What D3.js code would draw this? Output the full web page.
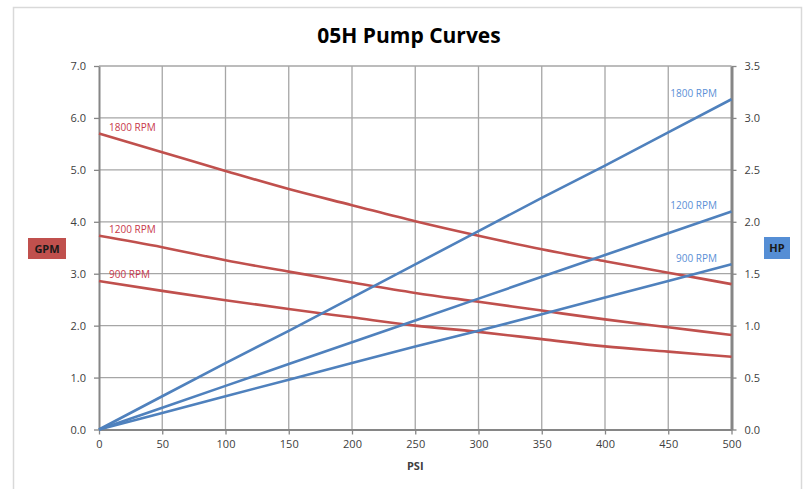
<!DOCTYPE html>
<html><head><meta charset="utf-8">
<script src="https://cdn.jsdelivr.net/npm/d3@7"></script>
<style>
html,body{margin:0;padding:0;background:#fff;}
svg{display:block;font-family:"Open Sans",Lato,sans-serif;}
</style></head><body>
<svg id="c" width="805" height="489"></svg>
<script>
const psi = [0,50,100,150,200,250,300,350,400,450,500];
const gpm1800 = [5.70,5.34,4.98,4.63,4.32,4.01,3.73,3.47,3.24,3.02,2.80];
const gpm1200 = [3.73,3.51,3.26,3.04,2.83,2.63,2.46,2.29,2.12,1.97,1.82];
const gpm900  = [2.86,2.67,2.49,2.32,2.16,2.00,1.88,1.74,1.60,1.50,1.40];
const hp1800 = [0,0.32,0.64,0.95,1.27,1.59,1.91,2.23,2.54,2.86,3.18];
const hp1200 = [0,0.21,0.42,0.63,0.84,1.05,1.26,1.47,1.68,1.89,2.10];
const hp900  = [0,0.16,0.32,0.48,0.64,0.80,0.95,1.11,1.27,1.43,1.59];
const seriesNames = ["1800 RPM","1200 RPM","900 RPM"];
const xTicks = [0,50,100,150,200,250,300,350,400,450,500];
const yLeftTicks = [0,1,2,3,4,5,6,7];
const yRightTicks = [0,0.5,1,1.5,2,2.5,3,3.5];

const RED="#c0504d", BLUE="#4f81bd";
const svg=d3.select("#c");
const L=99,R=731.5,T=66,B=429.5;
const x=d3.scaleLinear().domain([0,500]).range([L,R]);
const yl=d3.scaleLinear().domain([0,7]).range([B,T]);
const yr=d3.scaleLinear().domain([0,3.5]).range([B,T]);

// outer border
svg.append("rect").attr("x",13.5).attr("y",7.5).attr("width",788).attr("height",490)
  .attr("fill","none").attr("stroke","#d9d9d9").attr("stroke-width",1.5);

// title
svg.append("text").attr("x",409).attr("y",43).attr("text-anchor","middle")
  .attr("font-size",21).attr("font-weight","bold").attr("fill","#000").text("05H Pump Curves");

// gridlines
const g=svg.append("g");
g.selectAll(".vg").data(xTicks.slice(1,-1)).enter().append("line")
  .attr("x1",d=>x(d)).attr("x2",d=>x(d)).attr("y1",T).attr("y2",B)
  .attr("stroke","#a6a6a6").attr("stroke-width",1.3);
g.selectAll(".hg").data(yLeftTicks.slice(1)).enter().append("line")
  .attr("x1",L).attr("x2",R).attr("y1",d=>yl(d)).attr("y2",d=>yl(d))
  .attr("stroke","#a6a6a6").attr("stroke-width",1.3);

// axes
const axStyle=(sel,w)=>{sel.select(".domain").attr("stroke","#868686").attr("stroke-width",w);
  sel.selectAll(".tick line").attr("stroke","#868686").attr("stroke-width",1.3);
  sel.selectAll("text").attr("fill","#404040").attr("font-size",11).attr("font-family","'Open Sans',sans-serif");};
const xa=svg.append("g").attr("transform",`translate(0,${B})`)
  .call(d3.axisBottom(x).tickValues(xTicks).tickSize(5).tickSizeOuter(0).tickPadding(6));
axStyle(xa,2);
const yla=svg.append("g").attr("transform",`translate(${L},0)`)
  .call(d3.axisLeft(yl).tickValues(yLeftTicks).tickFormat(d3.format(".1f")).tickSize(5).tickSizeOuter(0).tickPadding(8));
axStyle(yla,2);
const yra=svg.append("g").attr("transform",`translate(${R},0)`)
  .call(d3.axisRight(yr).tickValues(yRightTicks).tickFormat(d3.format(".1f")).tickSize(5).tickSizeOuter(0).tickPadding(8));
axStyle(yra,3);

// lines
const redData=[gpm1800,gpm1200,gpm900], blueData=[hp1800,hp1200,hp900];
const lineL=d3.line().x((d,i)=>x(psi[i])).y(d=>yl(d)).curve(d3.curveMonotoneX);
const lineR=d3.line().x((d,i)=>x(psi[i])).y(d=>yr(d));
svg.selectAll(".rl").data(redData).enter().append("path").attr("d",lineL)
  .attr("fill","none").attr("stroke",RED).attr("stroke-width",2.6);
svg.selectAll(".bl").data(blueData).enter().append("path").attr("d",lineR)
  .attr("fill","none").attr("stroke",BLUE).attr("stroke-width",2.6);

// series labels
redData.forEach((s,i)=>{
  svg.append("text").attr("x",x(psi[0])+10).attr("y",yl(s[0])-3)
    .attr("font-size",10).attr("fill","#c8384a").text(seriesNames[i]);
});
blueData.forEach((s,i)=>{
  svg.append("text").attr("x",R-14.5).attr("y",yr(s[s.length-1])-2).attr("text-anchor","end")
    .attr("font-size",10).attr("fill","#5b8fd6").text(seriesNames[i]);
});

// axis title boxes
svg.append("rect").attr("x",28).attr("y",238).attr("width",38).attr("height",21).attr("fill",RED);
svg.append("text").attr("x",47).attr("y",253).attr("text-anchor","middle").attr("font-size",11)
  .attr("font-weight","bold").attr("fill","#1a1a1a").text("GPM");
svg.append("rect").attr("x",764).attr("y",237).attr("width",26).attr("height",22).attr("fill","#558ed5");
svg.append("text").attr("x",777).attr("y",252).attr("text-anchor","middle").attr("font-size",11)
  .attr("font-weight","bold").attr("fill","#1a1a1a").text("HP");
svg.append("text").attr("x",x(250)).attr("y",470).attr("text-anchor","middle").attr("font-size",11)
  .attr("font-weight","bold").attr("fill","#404040").text("PSI");
</script></body></html>
